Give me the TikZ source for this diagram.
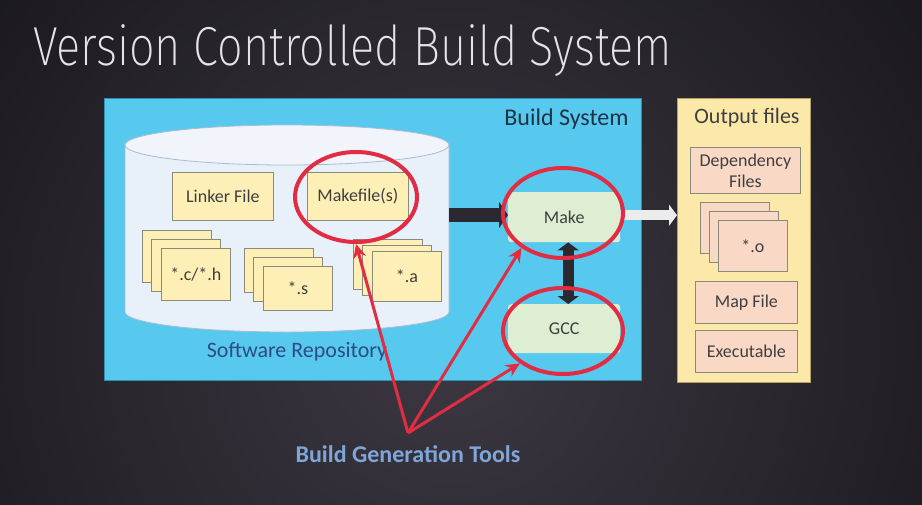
\documentclass[tikz,border=0pt]{standalone}
\usepackage{fontspec}
\setmainfont{Carlito}
\IfFontExistsTF{Fira Sans ExtraLight}{\newfontfamily\titlefont{Fira Sans ExtraLight}}{%
 \IfFontExistsTF{Fira Sans Light}{\newfontfamily\titlefont{Fira Sans Light}}{%
  \IfFontExistsTF{Lato Light}{\newfontfamily\titlefont{Lato Light}}{%
   \IfFontExistsTF{Open Sans Light}{\newfontfamily\titlefont{Open Sans Light}}{%
    \newfontfamily\titlefont{Fira Sans}}}}}
\usetikzlibrary{arrows.meta,shapes.geometric}
\definecolor{bgin}{HTML}{3D3842}
\definecolor{bgout}{HTML}{17161B}
\definecolor{bluefill}{HTML}{57C9EF}
\definecolor{bluebd}{HTML}{2E8FB0}
\definecolor{cylfill}{HTML}{E8F0FA}
\definecolor{cyltop}{HTML}{F1F5FB}
\definecolor{cylbd}{HTML}{A9BCD0}
\definecolor{filefill}{HTML}{FDEFB6}
\definecolor{filebd}{HTML}{8A8A78}
\definecolor{outfill}{HTML}{FCE9A9}
\definecolor{outbd}{HTML}{B8A060}
\definecolor{peach}{HTML}{F9D8C6}
\definecolor{greenfill}{HTML}{DDEED3}
\definecolor{redc}{HTML}{E22C44}
\definecolor{darkc}{HTML}{2A2830}
\definecolor{whitec}{HTML}{ECECEC}
\definecolor{txt}{HTML}{3F3F3F}
\definecolor{bstxt}{HTML}{1E3345}
\definecolor{repotxt}{HTML}{2E4C82}
\definecolor{tooltxt}{HTML}{7FA6DA}
\definecolor{titlec}{HTML}{E6E4E8}
\begin{document}
\begin{tikzpicture}[x=1pt,y=-1pt,
  filebox/.style={draw=filebd, fill=filefill, line width=0.8pt, inner sep=0pt, anchor=north west, text=txt, font=\fontsize{18}{21}\selectfont},
  outitem/.style={draw=filebd, fill=peach, line width=0.8pt, inner sep=0pt, anchor=north west, text=txt, font=\fontsize{18}{21}\selectfont, align=center},
  toolbox/.style={fill=greenfill, rounded corners=3pt, inner sep=0pt, anchor=north west, text=txt, font=\fontsize{18}{21}\selectfont, minimum width=112pt},
  redring/.style={ellipse, draw=redc, line width=4pt, inner sep=0pt},
  redarrow/.style={draw=redc, line width=3pt, -{Stealth[length=14pt,width=13pt]}},
  label/.style={font=\fontsize{22}{26}\selectfont}
]
\useasboundingbox (0,0) rectangle (922,504);
\fill[bgout] (0,0) rectangle (922,504);
\shade[inner color=bgin, outer color=bgout] (450,340) circle (640pt);

% title
\node[anchor=base west, inner sep=0pt, text=titlec] (title) at (33,65)
  {\scalebox{0.82}[1]{\titlefont\fontsize{55}{60}\selectfont Version Controlled Build System}};

% build system box
\node[draw=bluebd, fill=bluefill, line width=1pt, minimum width=537pt, minimum height=282pt, anchor=north west, inner sep=0pt] (bs) at (104,98) {};
\node[label, font=\fontsize{24}{28}\selectfont, text=bstxt, anchor=east] (bstitle) at (632,119) {Build System};

% repository cylinder
\fill[cylfill, draw=cylbd, line width=0.8pt] (125,145) -- (125,312) arc[start angle=180, end angle=360, x radius=162pt, y radius=20pt] -- (449,145) -- cycle;
\draw[cylbd, fill=cyltop, line width=0.8pt] (287,145) ellipse [x radius=162pt, y radius=20pt];
\coordinate (repoE) at (449,215);
\node[label, text=repotxt] (repolabel) at (297,352) {Software Repository};

% files in repository
\node[filebox, minimum width=101pt, minimum height=48pt] (linker) at (172,172) {Linker File};
\node[filebox, minimum width=101pt, minimum height=48pt] (makefile) at (307,172) {Makefile(s)};

\node[filebox, minimum width=69pt, minimum height=52pt] (ch1) at (142,230) {};
\node[filebox, minimum width=69pt, minimum height=52pt] (ch2) at (151,239) {};
\node[filebox, minimum width=69pt, minimum height=52pt] (ch3) at (161,248) {*.c/*.h};

\node[filebox, minimum width=69pt, minimum height=44pt] (s1) at (244,248) {};
\node[filebox, minimum width=69pt, minimum height=44pt] (s2) at (253,257) {};
\node[filebox, minimum width=69pt, minimum height=44pt] (s3) at (263,266) {*.s};

\node[filebox, minimum width=69pt, minimum height=50pt] (a1) at (353,239) {};
\node[filebox, minimum width=69pt, minimum height=50pt] (a2) at (362,245) {};
\node[filebox, minimum width=69pt, minimum height=50pt] (a3) at (372,251) {*.a};

% tools
\node[toolbox, minimum height=50pt] (make) at (508,192) {Make};
\node[toolbox, minimum height=49pt] (gcc) at (508,304) {GCC};

% output files
\node[draw=outbd, fill=outfill, line width=1pt, minimum width=133pt, minimum height=284pt, anchor=north west, inner sep=0pt] (out) at (677,98) {};
\node[label, text=txt] (outtitle) at (747,118) {Output files};
\node[outitem, minimum width=110pt, minimum height=46pt] (dep) at (690,147) {Dependency\\Files};
\node[filebox, fill=peach, minimum width=69pt, minimum height=51pt] (o1) at (700,202) {};
\node[filebox, fill=peach, minimum width=69pt, minimum height=51pt] (o2) at (709,211) {};
\node[filebox, fill=peach, minimum width=69pt, minimum height=51pt] (o3) at (718,220) {*.o};
\node[outitem, minimum width=102pt, minimum height=42pt] (map) at (695,281) {Map File};
\node[outitem, minimum width=102pt, minimum height=42pt] (exe) at (695,330) {Executable};

% block arrows
\draw[darkc, line width=14pt, -{Triangle[length=9pt,width=26pt]}] (repoE) -- (make.west |- repoE);
\draw[darkc, line width=11pt, {Triangle[length=8pt,width=21pt]}-{Triangle[length=8pt,width=21pt]}] ([xshift=4pt]make.south) -- ([xshift=4pt]gcc.north);
\draw[whitec, line width=10pt, -{Triangle[length=8pt,width=21pt]}] ([yshift=2pt]make.east) -- ([yshift=2pt]make.east -| out.west);

% red rings
\node[redring, minimum width=122pt, minimum height=90pt] (mkfring) at (356,197) {};
\node[redring, minimum width=120pt, minimum height=90pt] (makering) at (563,213) {};
\node[redring, minimum width=120pt, minimum height=86pt] (gccring) at (563,331) {};

% build generation tools
\coordinate (apex) at (408,433);
\draw[redarrow] (apex) -- (mkfring.-90);
\draw[redarrow] (apex) -- (makering.-140);
\draw[redarrow] (apex) -- (gccring.-143);
\node[font=\bfseries\fontsize{24}{28}\selectfont, text=tooltxt] (tools) at (408,454) {Build Generation Tools};
\end{tikzpicture}
\end{document}
